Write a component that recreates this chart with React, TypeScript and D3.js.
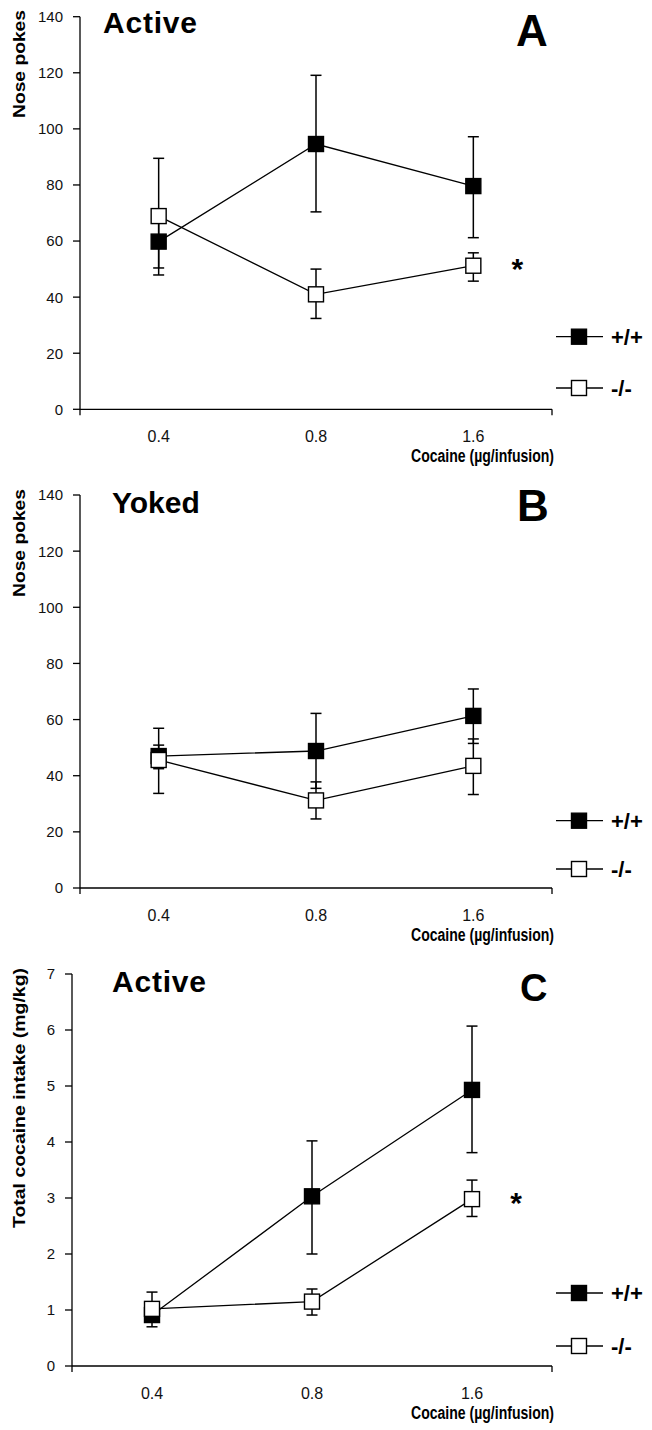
import React from 'react';
import * as d3 from 'd3';

// ---------- DATA ----------
const doses = ['0.4', '0.8', '1.6'];
const seriesNames = ['+/+', '-/-'];

// Panel A – Active nose pokes
const activeWT = [59.8, 94.6, 79.6];
const activeWTLo = [47.9, 70.4, 61.2];
const activeWTHi = [69.5, 119.1, 97.2];
const activeKO = [68.9, 41.0, 51.2];
const activeKOLo = [50.4, 32.4, 45.7];
const activeKOHi = [89.5, 50.0, 55.8];

// Panel B – Yoked nose pokes
const yokedWT = [47.0, 48.8, 61.3];
const yokedWTLo = [42.5, 35.5, 51.5];
const yokedWTHi = [50.9, 62.2, 70.9];
const yokedKO = [45.6, 31.2, 43.5];
const yokedKOLo = [33.7, 24.6, 33.3];
const yokedKOHi = [56.9, 37.8, 53.1];

// Panel C – Total cocaine intake (mg/kg)
const intakeWT = [0.91, 3.03, 4.93];
const intakeWTLo = [0.7, 2.0, 3.81];
const intakeWTHi = [1.1, 4.02, 6.07];
const intakeKO = [1.02, 1.15, 2.98];
const intakeKOLo = [0.8, 0.91, 2.67];
const intakeKOHi = [1.32, 1.375, 3.32];

const pokeTicks = [0, 20, 40, 60, 80, 100, 120, 140];
const intakeTicks = [0, 1, 2, 3, 4, 5, 6, 7];

const FONT = "'Liberation Sans', Arial, Helvetica, sans-serif";

type Series = { v: number[]; lo: number[]; hi: number[]; filled: boolean };

type PanelProps = {
  left: number;
  right: number;
  y0: number;
  yTop: number;
  ticks: number[];
  series: Series[];
  title: string;
  titleX: number;
  titleY: number;
  titleSpacing: number;
  letter: string;
  letterX: number;
  letterY: number;
  letterSize: number;
  yLabel: string;
  yLabelCY: number;
  yLabelLen: number;
  legendY: number[];
  star: boolean;
};

const MS = 15; // marker size

function Marker({ x, y, filled }: { x: number; y: number; filled: boolean }) {
  return (
    <rect
      x={x - MS / 2}
      y={y - MS / 2}
      width={MS}
      height={MS}
      fill={filled ? '#000' : '#fff'}
      stroke="#000"
      strokeWidth={1.4}
    />
  );
}

function Panel(p: PanelProps) {
  const x = d3.scaleBand<string>().domain(doses).range([p.left, p.right]).padding(0);
  const cx = (d: string) => (x(d) as number) + x.bandwidth() / 2;
  const y = d3
    .scaleLinear()
    .domain([0, p.ticks[p.ticks.length - 1]])
    .range([p.y0, p.yTop]);
  const line = d3
    .line<number>()
    .x((_, i) => cx(doses[i]))
    .y((v) => y(v));
  const cap = 5.5;

  return (
    <g>
      {/* y axis */}
      <line x1={p.left} x2={p.left} y1={p.yTop} y2={p.y0 + 6} stroke="#000" strokeWidth={1.3} />
      {p.ticks.map((t) => (
        <g key={t}>
          <line x1={p.left - 7} x2={p.left} y1={y(t)} y2={y(t)} stroke="#000" strokeWidth={1.3} />
          <text
            x={p.left - 17}
            y={y(t)}
            dy="0.36em"
            textAnchor="end"
            fontFamily={FONT}
            fontSize={15}
            fill="#111"
          >
            {t}
          </text>
        </g>
      ))}
      {/* x axis */}
      <line x1={p.left} x2={p.right} y1={p.y0} y2={p.y0} stroke="#000" strokeWidth={1.3} />
      <line x1={p.right} x2={p.right} y1={p.y0} y2={p.y0 + 6} stroke="#000" strokeWidth={1.3} />
      {doses.map((d) => (
        <text key={d} x={cx(d)} y={p.y0 + 33} textAnchor="middle" fontFamily={FONT} fontSize={16} fill="#111">
          {d}
        </text>
      ))}
      <text
        x={554}
        y={p.y0 + 53}
        textAnchor="end"
        fontFamily={FONT}
        fontSize={18}
        fontWeight="bold"
        textLength={143}
        lengthAdjust="spacingAndGlyphs"
        fill="#000"
      >
        Cocaine (µg/infusion)
      </text>
      {/* y label */}
      <text
        transform={`translate(25,${p.yLabelCY}) rotate(-90)`}
        textAnchor="middle"
        fontFamily={FONT}
        fontSize={16}
        fontWeight="bold"
        textLength={p.yLabelLen}
        lengthAdjust="spacingAndGlyphs"
        fill="#000"
      >
        {p.yLabel}
      </text>
      {/* title + letter */}
      <text
        x={p.titleX}
        y={p.titleY}
        fontFamily={FONT}
        fontSize={30}
        fontWeight="bold"
        letterSpacing={p.titleSpacing}
        fill="#000"
      >
        {p.title}
      </text>
      <text x={p.letterX} y={p.letterY} fontFamily={FONT} fontSize={p.letterSize} fontWeight="bold" fill="#000">
        {p.letter}
      </text>
      {/* series */}
      {p.series.map((s, si) => (
        <g key={si}>
          {doses.map((d, i) => (
            <g key={d}>
              <line x1={cx(d)} x2={cx(d)} y1={y(s.lo[i])} y2={y(s.hi[i])} stroke="#000" strokeWidth={1.5} />
              <line x1={cx(d) - cap} x2={cx(d) + cap} y1={y(s.lo[i])} y2={y(s.lo[i])} stroke="#000" strokeWidth={1.5} />
              <line x1={cx(d) - cap} x2={cx(d) + cap} y1={y(s.hi[i])} y2={y(s.hi[i])} stroke="#000" strokeWidth={1.5} />
            </g>
          ))}
          <path d={line(s.v) as string} fill="none" stroke="#000" strokeWidth={1.3} />
          {doses.map((d, i) => (
            <Marker key={d} x={cx(d)} y={y(s.v[i])} filled={s.filled} />
          ))}
        </g>
      ))}
      {/* significance star */}
      {p.star && (
        <text
          x={cx('1.6') + 44}
          y={y(p.series[1].v[2]) + 13.5}
          textAnchor="middle"
          fontFamily={FONT}
          fontSize={30}
          fontWeight="bold"
          fill="#000"
        >
          *
        </text>
      )}
      {/* legend */}
      {seriesNames.map((n, i) => (
        <g key={n}>
          <line x1={556} x2={603} y1={p.legendY[i]} y2={p.legendY[i]} stroke="#000" strokeWidth={1.3} />
          <Marker x={579} y={p.legendY[i]} filled={p.series[i].filled} />
          <text
            x={611}
            y={p.legendY[i]}
            dy="0.36em"
            fontFamily={FONT}
            fontSize={22}
            fontWeight="bold"
            fill="#000"
          >
            {n}
          </text>
        </g>
      ))}
    </g>
  );
}

export default function App() {
  return (
    <div style={{ position: 'absolute', left: 0, top: 0 }}>
      <svg width={652} height={1430} viewBox="0 0 652 1430" style={{ display: 'block', background: '#fff' }}>
        <Panel
          left={80}
          right={552}
          y0={409.3}
          yTop={16.7}
          ticks={pokeTicks}
          series={[
            { v: activeWT, lo: activeWTLo, hi: activeWTHi, filled: true },
            { v: activeKO, lo: activeKOLo, hi: activeKOHi, filled: false },
          ]}
          title="Active"
          titleX={103}
          titleY={33}
          titleSpacing={0.8}
          letter="A"
          letterX={516}
          letterY={46}
          letterSize={44}
          yLabel="Nose pokes"
          yLabelCY={64}
          yLabelLen={108}
          legendY={[336.7, 388]}
          star={true}
        />
        <Panel
          left={80}
          right={552}
          y0={888}
          yTop={495}
          ticks={pokeTicks}
          series={[
            { v: yokedWT, lo: yokedWTLo, hi: yokedWTHi, filled: true },
            { v: yokedKO, lo: yokedKOLo, hi: yokedKOHi, filled: false },
          ]}
          title="Yoked"
          titleX={112}
          titleY={513}
          titleSpacing={0}
          letter="B"
          letterX={517}
          letterY={521}
          letterSize={44}
          yLabel="Nose pokes"
          yLabelCY={543}
          yLabelLen={108}
          legendY={[820.7, 869]}
          star={false}
        />
        <Panel
          left={72}
          right={552}
          y0={1366}
          yTop={974}
          ticks={intakeTicks}
          series={[
            { v: intakeWT, lo: intakeWTLo, hi: intakeWTHi, filled: true },
            { v: intakeKO, lo: intakeKOLo, hi: intakeKOHi, filled: false },
          ]}
          title="Active"
          titleX={112}
          titleY={992}
          titleSpacing={0.8}
          letter="C"
          letterX={520}
          letterY={1001}
          letterSize={38}
          yLabel="Total cocaine intake (mg/kg)"
          yLabelCY={1098}
          yLabelLen={260}
          legendY={[1293, 1346]}
          star={true}
        />
      </svg>
    </div>
  );
}
